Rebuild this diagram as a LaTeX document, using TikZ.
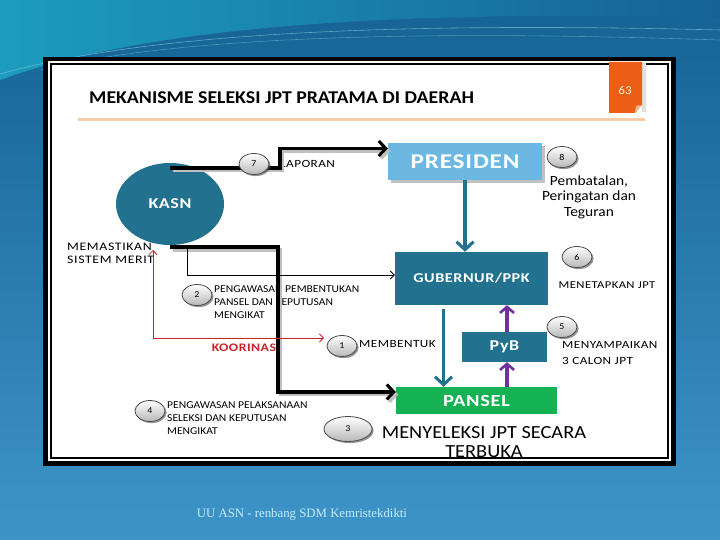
\documentclass[tikz,border=0pt]{standalone}
\usepackage{fontspec}
\setmainfont{Carlito}[FakeStretch=1.1]
\newfontfamily\lblfont{Carlito}[FakeStretch=1.2,LetterSpace=4]
\newfontfamily\footfont{Liberation Serif}
\usetikzlibrary{arrows.meta,shapes.geometric,shadows}

\definecolor{kasnteal}{RGB}{33,113,143}
\definecolor{presblue}{RGB}{108,184,226}
\definecolor{panselgreen}{RGB}{20,178,82}
\definecolor{pybpurple}{RGB}{112,48,160}
\definecolor{koorred}{RGB}{200,36,44}
\definecolor{taborange}{RGB}{236,94,22}
\definecolor{lineorange}{RGB}{246,204,168}
\definecolor{bgtop}{RGB}{22,98,148}
\definecolor{bgbot}{RGB}{62,148,200}
\definecolor{swteal}{RGB}{28,156,190}
\definecolor{footcyan}{RGB}{200,236,252}

\tikzset{
  orgbox/.style={rectangle,inner sep=0pt,text=white},
  badge/.style={ellipse,draw=black!70,line width=0.8pt,top color=white,bottom color=black!28,
    minimum width=30pt,minimum height=21pt,inner sep=0pt,font=\fontsize{9}{9}\selectfont,
    drop shadow={shadow xshift=1.6pt,shadow yshift=-1.6pt,fill=black!70,opacity=.6}},
  lbl/.style={inner sep=0pt,font=\fontsize{10.5}{13}\selectfont},
  bigline/.style={line width=3.6pt,
    preaction={draw=black!25,line width=3.6pt,transform canvas={shift={(2.5pt,-2.5pt)}}},
    -{Straight Barb[length=7pt,width=15pt,line width=3pt]}},
  thinline/.style={line width=0.9pt,-{Straight Barb[length=4pt,width=8pt]}},
  koorline/.style={draw=koorred,line width=0.8pt,
    {Straight Barb[length=4pt,width=8pt]}-{Straight Barb[length=4pt,width=8pt]}},
  tealline/.style={draw=kasnteal,line width=3.6pt,-{Straight Barb[length=8pt,width=17pt,line width=3pt]}},
  purpline/.style={draw=pybpurple,line width=3.4pt,-{Straight Barb[length=6pt,width=14pt,line width=2.6pt]}}
}

\begin{document}
\begin{tikzpicture}[x=1pt,y=-1pt]
\useasboundingbox (0,0) rectangle (720,540);
% background
\shade[top color=bgtop,bottom color=bgbot] (0,0) rectangle (720,540);
\shade[left color=swteal,right color=bgtop] (0,0) -- (0,80) .. controls (150,25) and (400,10) .. (720,18) -- (720,0) -- cycle;
\draw[swteal!60!white,line width=0.6pt,opacity=.7] (0,74) .. controls (150,32) and (400,22) .. (720,30);
\draw[swteal!60!white,line width=0.6pt,opacity=.5] (40,70) .. controls (180,36) and (420,30) .. (720,40);

% slide frame
\fill[black] (43,57) rectangle (676,466);
\fill[white] (48,61) rectangle (671,461);
\draw[black,line width=1.8pt] (51,64) rectangle (668,458);

% title
\node[anchor=west,inner sep=0pt,font=\bfseries\fontsize{18}{18}\selectfont] (title) at (89,98) {MEKANISME SELEKSI JPT PRATAMA DI DAERAH};
\fill[lineorange] (78,118) rectangle (645,121.5);
\fill[black!12] (642,63) rectangle (646,112);
\fill[taborange] (609,62) -- (642,62) -- (642,105) -- (635,113) -- (609,113) -- cycle;
\fill[taborange!45!white] (642,105) -- (635,113) -- (636,106) -- cycle;
\node[text=white!90!orange,font=\fontsize{12}{12}\selectfont] (page) at (625,90) {63};

% main blocks
\node[ellipse,fill=kasnteal,minimum width=108pt,minimum height=82pt,text=white,
  font=\lblfont\bfseries\fontsize{15}{15}\selectfont] (kasn) at (170,204) {KASN};
\node[orgbox,fill=presblue,minimum width=154pt,minimum height=37pt,font=\lblfont\bfseries\fontsize{21}{21}\selectfont,
  drop shadow={shadow xshift=3pt,shadow yshift=-3pt,fill=black!40,opacity=.6}] (pres) at (465,161.5) {PRESIDEN};
\node[orgbox,fill=kasnteal,minimum width=153pt,minimum height=53pt,font=\lblfont\bfseries\fontsize{13.5}{13.5}\selectfont] (gub) at (471.5,278.5) {GUBERNUR/PPK};
\node[orgbox,fill=kasnteal,minimum width=85pt,minimum height=30pt,font=\lblfont\bfseries\fontsize{15}{15}\selectfont] (pyb) at (504.5,347) {PyB};
\node[orgbox,fill=panselgreen,minimum width=161pt,minimum height=27pt,font=\lblfont\bfseries\fontsize{17}{17}\selectfont] (pansel) at (476.5,400.5) {PANSEL};

% labels
\node[lbl,anchor=west,font=\lblfont\fontsize{11}{11}\selectfont] (lapor) at (280,164) {LAPORAN};
\node[lbl,align=center,font=\fontsize{14}{15.5}\selectfont] (batal) at (589,197) {Pembatalan,\\Peringatan dan\\Teguran};
\node[lbl,font=\lblfont\fontsize{10.5}{10.5}\selectfont] (tetap) at (607,285) {MENETAPKAN JPT};
\node[lbl,anchor=west,align=left,font=\lblfont\addfontfeature{LetterSpace=5.5}\fontsize{11.5}{13.5}\selectfont] (merit) at (67,253.5) {MEMASTIKAN\\SISTEM MERIT};
\node[lbl,anchor=west,align=left] (awas2) at (214,302) {PENGAWASAN PEMBENTUKAN\\PANSEL DAN KEPUTUSAN\\MENGIKAT};
\node[lbl,text=koorred,font=\lblfont\bfseries\fontsize{11.5}{11.5}\selectfont] (koor) at (246,348) {KOORINASI};
\node[lbl,anchor=west,font=\lblfont\fontsize{11}{11}\selectfont] (bentuk) at (359,344) {MEMBENTUK};
\node[lbl,anchor=west,align=left] (awas4) at (167,418) {PENGAWASAN PELAKSANAAN\\SELEKSI DAN KEPUTUSAN\\MENGIKAT};
\node[lbl,align=center,font=\fontsize{18.5}{19.5}\selectfont] (seleksi) at (484,442) {MENYELEKSI JPT SECARA\\TERBUKA};
\node[lbl,anchor=west,align=left,font=\lblfont\fontsize{11}{16}\selectfont] (sampai) at (562,353) {MENYAMPAIKAN\\3 CALON JPT};
\node[text=footcyan,font=\footfont\fontsize{12.8}{12.8}\selectfont] (foot) at (302,514) {UU ASN - renbang SDM Kemristekdikti};

% connectors
\coordinate (koortop) at (153,250);
\draw[bigline] ([yshift=-5pt]kasn.north) -- ++(110,0) |- ([yshift=13pt]pres.west);
\draw[bigline] ([yshift=-2pt]kasn.south) -- ++(108,0) |- ([yshift=8.5pt]pansel.west);
\draw[thinline] ([xshift=17pt,yshift=-3pt]kasn.south) |- ([yshift=3.5pt]gub.west);
\draw[koorline] (koortop) |- (324,338);
\draw[tealline] (pres.south) -- (pres.south |- gub.north);
\draw[tealline] ([xshift=-28pt,yshift=-4pt]gub.south) -- ([xshift=-28pt]gub.south |- pansel.north);
\draw[purpline] ([xshift=2.5pt]pyb.south |- pansel.north) -- ([xshift=2.5pt]pyb.south);
\draw[purpline] ([xshift=2.5pt]pyb.north) -- ([xshift=2.5pt]pyb.north |- gub.south);

% numbered steps
\node[badge] (n7) at (254,164) {7};
\node[badge] (n8) at (562,157) {8};
\node[badge] (n6) at (577,257) {6};
\node[badge] (n2) at (197,295) {2};
\node[badge] (n1) at (342,346) {1};
\node[badge] (n5) at (562,327) {5};
\node[badge] (n4) at (150,411) {4};
\node[badge,minimum width=48pt,minimum height=25pt] (n3) at (348,429) {3};
\end{tikzpicture}
\end{document}
